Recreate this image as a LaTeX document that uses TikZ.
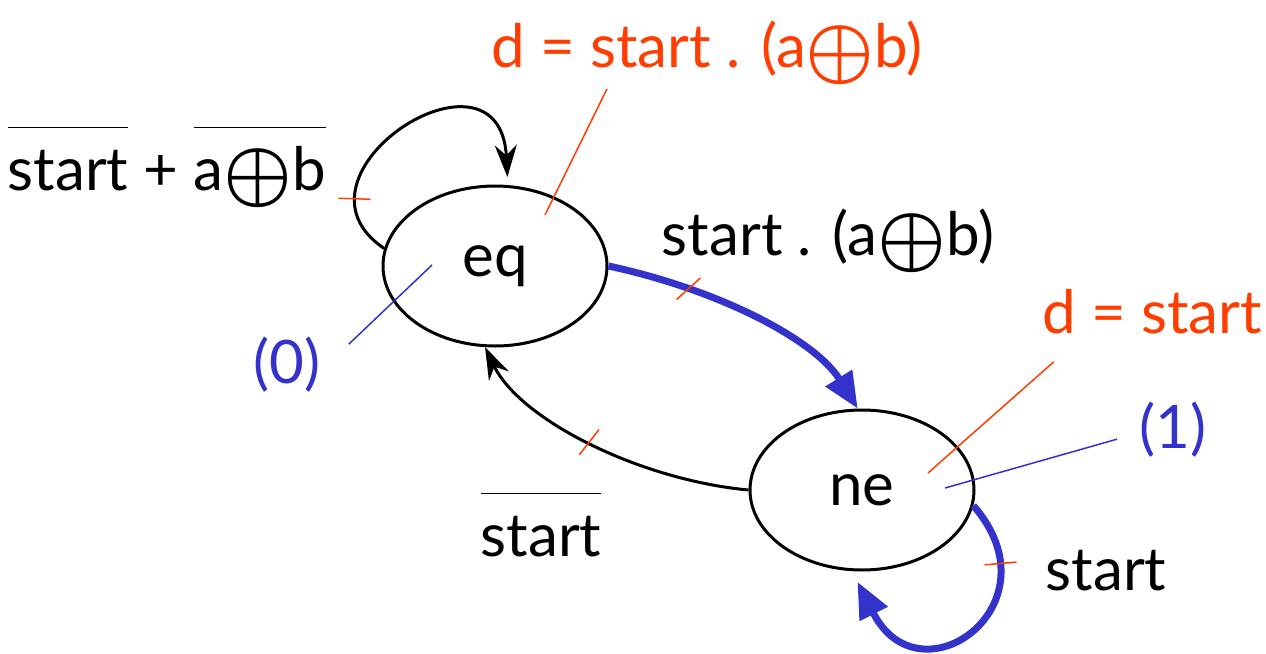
\documentclass[tikz,border=0pt]{standalone}
\usepackage{fontspec}
\setmainfont{Lato}
\usetikzlibrary{shapes.geometric, arrows.meta}
\newcommand{\negated}[1]{$\overline{\rule{0pt}{1em}\mbox{#1}}$}
\newcommand{\xorsign}{\raisebox{-0.12em}{\scalebox{1.55}{\boldmath$\oplus$}}}
\begin{document}
\begin{tikzpicture}[x=0.5pt, y=0.5pt, font=\fontsize{30}{36}\selectfont,
		state/.style={ellipse, draw, line width=1.5pt, minimum width=112pt, minimum height=80pt, inner sep=0pt},
		label/.style={anchor=base, inner sep=2pt},
		tick/.style={rectangle, draw=markred, line width=0.75pt, minimum width=0pt, minimum height=16pt, inner sep=0pt, sloped},
		edge/.style={line width=1.5pt, -{Stealth[length=16pt, width=11pt]}},
		bold/.style={pathblue, line width=3.5pt, -{Triangle[length=18pt, width=15pt]}},
		leader/.style={line width=0.75pt}]
			\definecolor{markred}{rgb}{1, 0.24, 0}
			\definecolor{pathblue}{rgb}{0.2, 0.2, 0.8}
			\useasboundingbox (0, 0) rectangle (1266, -654);

			\node[state] (eq) at (495, -266) {eq};
			\node[state] (ne) at (862, -490) {ne};

			\node[label, markred] (dtop) at (707, -67) {d = start . (a\xorsign b)};
			\node[label] (stay) at (167, -190) {\negated{start} + \negated{a\xorsign b}};
			\node[label] (go) at (828, -255) {start . (a\xorsign b)};
			\node[label, pathblue] (zero) at (287, -383) {(0)};
			\node[label, markred] (dne) at (1152, -333) {d = start};
			\node[label, pathblue] (one) at (1173, -448) {(1)};
			\node[label] (back) at (541, -556) {\negated{start}};
			\node[label] (keep) at (1106, -590) {start};

			\draw[edge, shorten >=4pt] (eq.171) .. controls (275, -175) and (500, -30) .. (eq.81)
				node[tick, pos=0.2] {};
			\draw[bold] (eq.east) .. controls (720, -290) and (815, -340) .. (ne.93)
				node[tick, pos=0.25, rotate=-28] {};
			\draw[edge] (ne.west) .. controls (640, -480) and (520, -420) .. (eq.263)
				node[tick, pos=0.5, rotate=-10] {};
			\draw[bold, shorten >=6pt] (ne.-8) .. controls (1060, -605) and (920, -705) .. (ne.263)
				node[tick, pos=0.2] {};

			\coordinate (eqd) at (545, -215);
			\coordinate (eqo) at (432, -265);
			\coordinate (ned) at (928, -473);
			\coordinate (neo) at (945, -488);
			\begin{scope}[leader]
				\draw[markred] ([xshift=-50pt]dtop.south) -- (eqd);
				\draw[pathblue] ([shift={(12pt, 10pt)}]zero.east) -- (eqo);
				\draw[markred] ([shift={(8pt, -12pt)}]dne.south west) -- (ned);
				\draw[pathblue] ([shift={(-9pt, -5pt)}]one.west) -- (neo);
			\end{scope}
		\end{tikzpicture}
\end{document}
